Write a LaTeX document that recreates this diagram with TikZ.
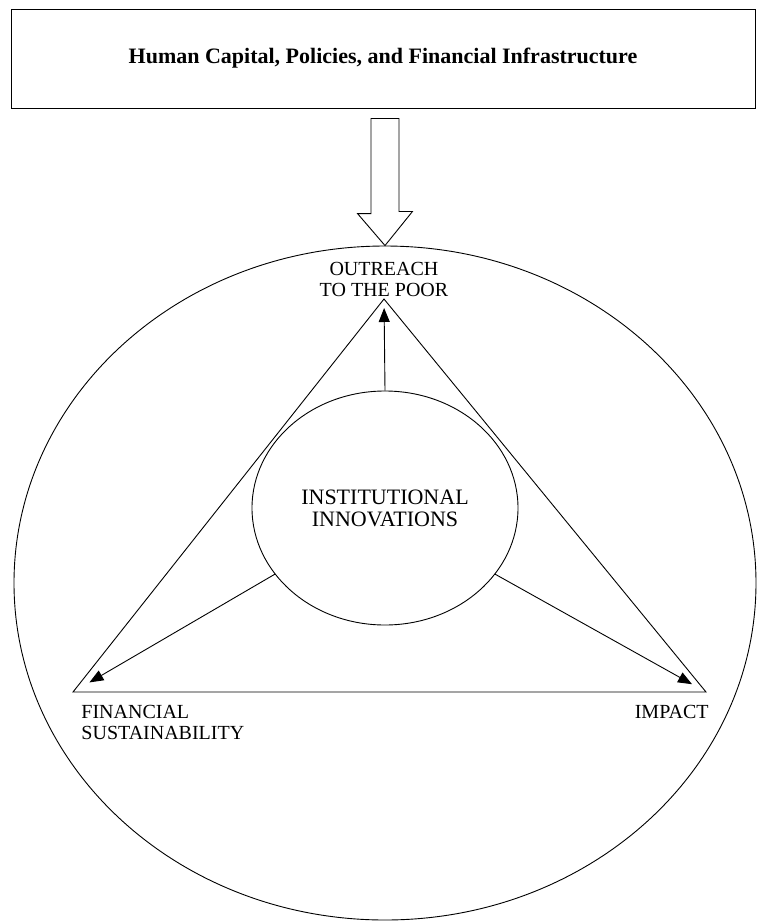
\documentclass[tikz,border=0pt]{standalone}
\usepackage{fontspec}
\setmainfont{Liberation Serif}
\usepackage{tikz}
\usetikzlibrary{
	arrows.meta,shapes.geometric
}

\tikzset{
	lbl/.style={inner sep=0pt,font=\fontsize{20}{21}\selectfont},
	rim/.style={draw,ellipse,inner sep=0pt}
}

\begin{document}
\begin{tikzpicture}[x=1pt,y=-1pt,line width=0.9pt]
		\useasboundingbox (0,0) rectangle (757,922);

		\node[draw,minimum width=744pt,minimum height=99pt,
			font=\fontsize{22}{24}\selectfont\bfseries] (T) at (383,58.5)
			{Human Capital, Policies, and Financial Infrastructure};

		\node[rim,minimum width=742pt,minimum height=674pt] (W) at (385,583) {};
		\node[rim,minimum width=266pt,minimum height=234pt,
			align=center,font=\fontsize{22}{22}\selectfont] (N) at (385,508)
			{INSTITUTIONAL\\INNOVATIONS};

		\coordinate (O) at (384,299);
		\coordinate (F) at (73,692);
		\coordinate (I) at (706,692);

		\node[lbl,align=center] (O') at (384,279) {OUTREACH\\TO THE POOR};
		\node[lbl,align=left,anchor=west] (F') at (81,722) {FINANCIAL\\SUSTAINABILITY};
		\node[lbl,anchor=east] (I') at (709,712) {IMPACT};
		%
		\draw (T.south -| W.north) ++(0,10) coordinate (A)
			++(-14,0) -- ++(28,0) -- ++(0,93) -- ++(13.5,0)
			-- (W.north) -- ++(-27.5,-32) -- ++(13.5,0) -- cycle;

		\draw (O) -- (F) -- (I) -- cycle;

		\path[->,>={Triangle[length=14pt,width=11pt]}]
		(N.north) edge[shorten >=9pt] (O)
		(N.211) edge[shorten >=19pt] (F)
		(N.329) edge[shorten >=16pt] (I);

	\end{tikzpicture}
\end{document}
